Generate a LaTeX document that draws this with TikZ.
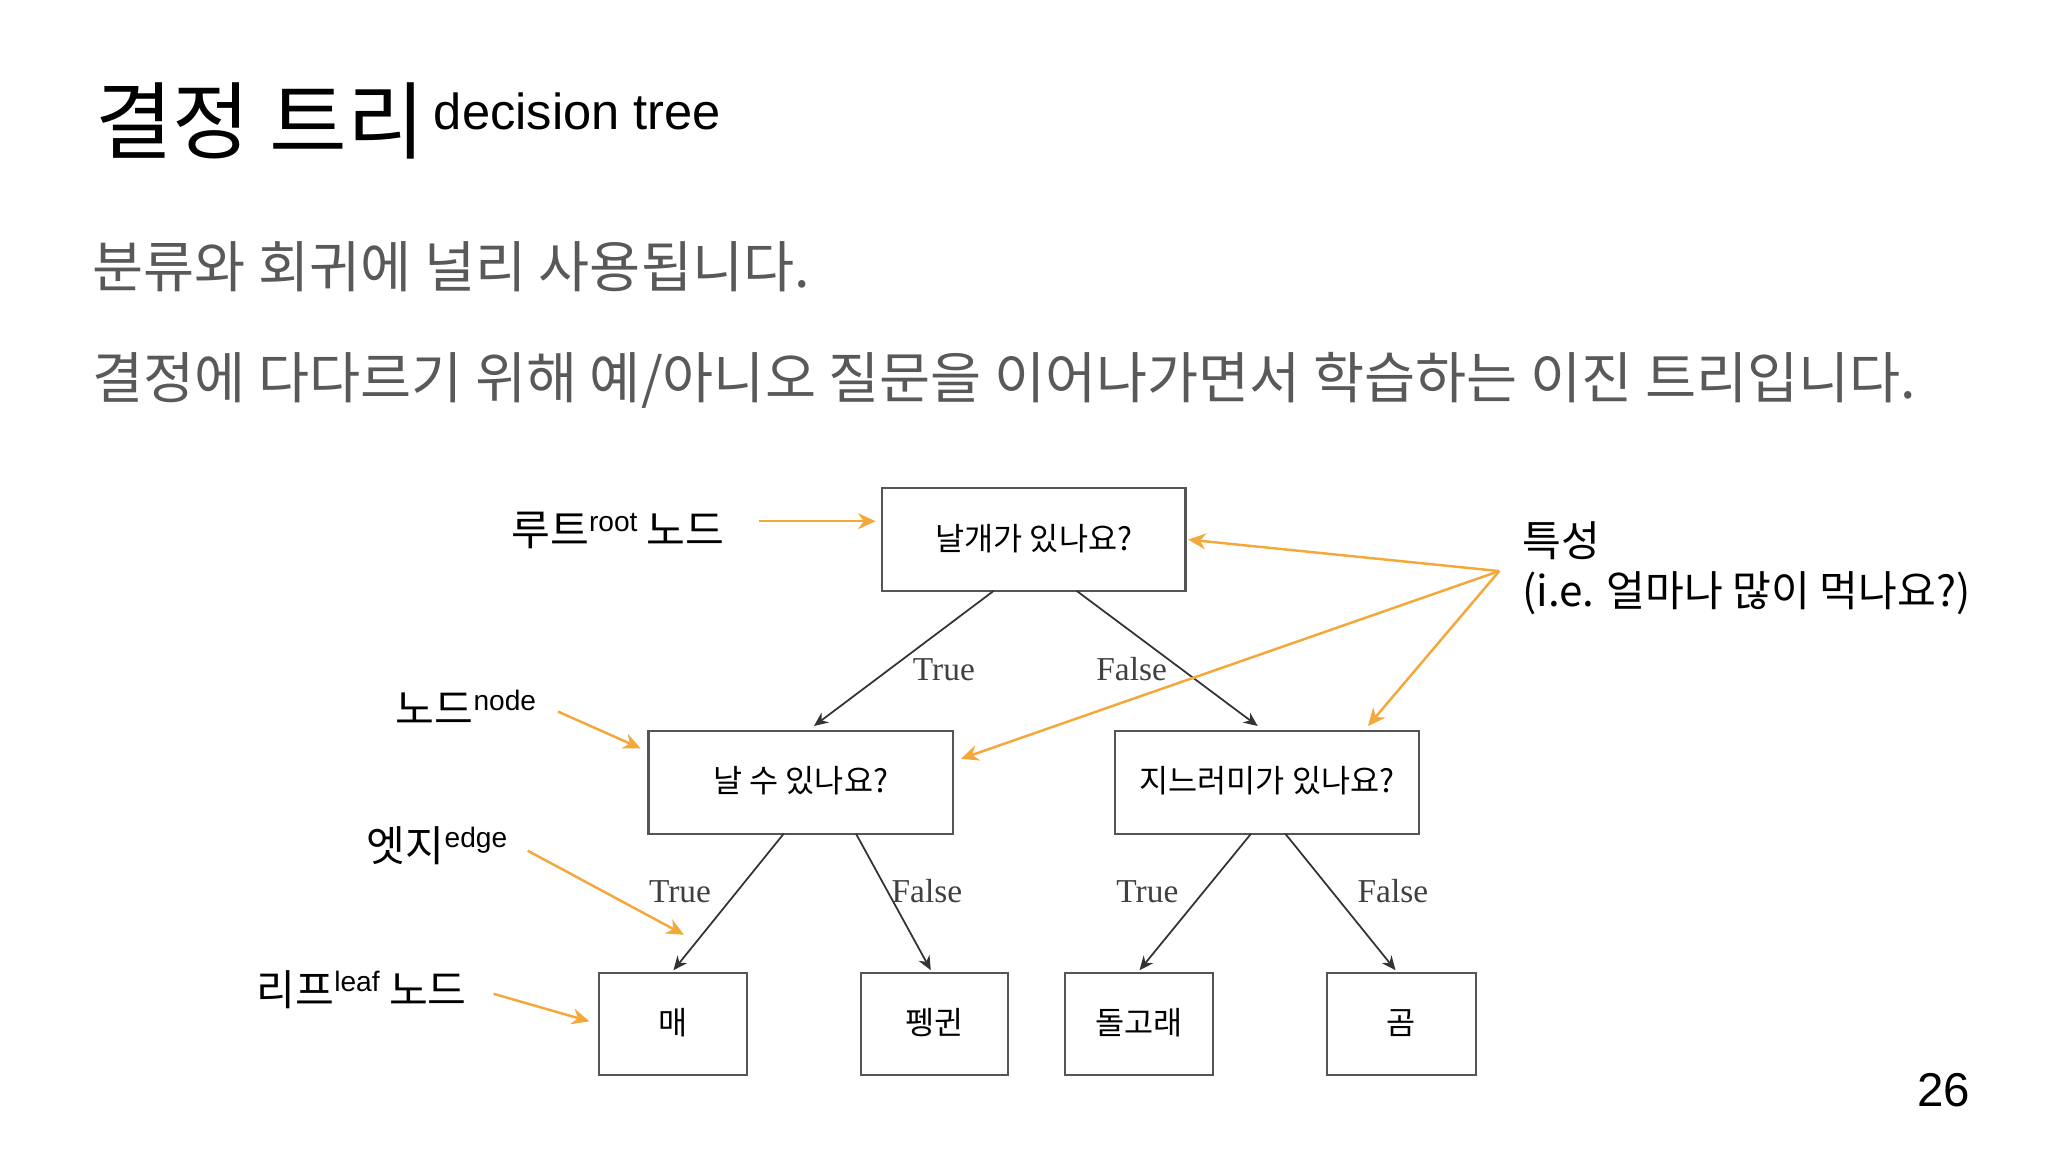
\documentclass[tikz,border=0pt]{standalone}
\usepackage{fontspec}
\setmainfont{Liberation Sans}
\newfontfamily\kr{Noto Sans CJK KR}
\newfontfamily\krm{Noto Sans CJK KR Medium}
\newfontfamily\ser{Liberation Serif}
\usetikzlibrary{arrows.meta}
\definecolor{org}{HTML}{F4A83A}
\definecolor{txtgray}{HTML}{595959}
\definecolor{boxgray}{HTML}{555555}
\begin{document}
\begin{tikzpicture}[x=0.013128cm,y=-0.013128cm,
  tfont/.style={font=\kr\fontsize{9}{10}\selectfont},
  tedge/.style={draw=black!80,line width=0.5pt,-{Stealth[length=4pt,width=3.5pt]}},
  tlab/.style={font=\ser\fontsize{9.5}{10}\selectfont,text=black!75},
  oarr/.style={draw=org,line width=0.7pt,-{Stealth[length=5pt,width=4.5pt]}},
  ann/.style={anchor=west,font=\kr\fontsize{12}{14}\selectfont,inner sep=0pt}]
\useasboundingbox (0,0) rectangle (1560,877.5);
\fill[white] (0,0) rectangle (1560,877.5);
% title
\node[anchor=base west,inner sep=0pt] (title) at (72,116) {\kr\fontsize{24}{28}\selectfont 결정 트리};
\node[anchor=base west,inner sep=0pt] (titleen) at (330,99) {\fontsize{14.4}{16}\selectfont decision tree};
\node[anchor=west,inner sep=0pt,text=txtgray] (l1) at (70,203) {\kr\fontsize{15.8}{18}\selectfont 분류와 회귀에 널리 사용됩니다.};
\node[anchor=west,inner sep=0pt,text=txtgray] (l2) at (70,290) {\kr\fontsize{15.8}{18}\selectfont 결정에 다다르기 위해 예/아니오 질문을 이어나가면서 학습하는 이진 트리입니다.};
% boxes
\draw[draw=boxgray,line width=0.6pt] (672,372) rectangle (903,450);
\node[tfont] (root) at (787.5,410) {날개가 있나요?};
\draw[draw=boxgray,line width=0.6pt] (494,557) rectangle (726,635);
\node[tfont] (ln) at (610,595) {날 수 있나요?};
\draw[draw=boxgray,line width=0.6pt] (849,557) rectangle (1081,635);
\node[tfont] (rn) at (965,595) {지느러미가 있나요?};
\foreach \a/\b/\t/\n in {456/569/매/la,656/768/펭귄/lb,811/924/돌고래/lc,1011/1124/곰/ld}{
  \draw[draw=boxgray,line width=0.6pt] (\a,741) rectangle (\b,819);
  \node[tfont] (\n) at ({(\a+\b)/2},779) {\t};
}
% tree edges
\coordinate (e1s) at (757,450); \coordinate (e1e) at (620,553);
\coordinate (e2s) at (820,450); \coordinate (e2e) at (958,553);
\coordinate (e3s) at (597,635); \coordinate (e3e) at (513,739);
\coordinate (e4s) at (652,635); \coordinate (e4e) at (709,739);
\coordinate (e5s) at (953,635); \coordinate (e5e) at (868,739);
\coordinate (e6s) at (979,635); \coordinate (e6e) at (1063,739);
\foreach \i in {1,...,6}{\draw[tedge] (e\i s) -- (e\i e);}
\node[tlab] (t1) at (719,510) {True};
\node[tlab] (f1) at (862,510) {False};
\node[tlab] (t2) at (518,679) {True};
\node[tlab] (f2) at (706,679) {False};
\node[tlab] (t3) at (874,679) {True};
\node[tlab] (f3) at (1061,679) {False};
% annotations
\node[ann] (a1) at (389,404) {루트\raisebox{0.6ex}{\fontsize{8}{9}\selectfont\rmfamily root} 노드};
\node[ann] (a2) at (301,539) {노드\raisebox{0.6ex}{\fontsize{8}{9}\selectfont\rmfamily node}};
\node[ann] (a3) at (279,644) {엣지\raisebox{0.6ex}{\fontsize{8}{9}\selectfont\rmfamily edge}};
\node[ann] (a4) at (195,754) {리프\raisebox{0.6ex}{\fontsize{8}{9}\selectfont\rmfamily leaf} 노드};
\node[ann] (a5) at (1159,412) {특성};
\node[ann] (a6) at (1159,452) {(i.e. 얼마나 많이 먹나요?)};
\coordinate (o1s) at (578,397); \coordinate (o1e) at (667,397);
\coordinate (o2s) at (425,542); \coordinate (o2e) at (488,570);
\coordinate (o3s) at (402,648); \coordinate (o3e) at (521,712);
\coordinate (o4s) at (376,757); \coordinate (o4e) at (449,778);
\coordinate (fs) at (1142,435);
\coordinate (f1e) at (905,411); \coordinate (f2e) at (732,578); \coordinate (f3e) at (1042,553);
\foreach \i in {1,...,4}{\draw[oarr] (o\i s) -- (o\i e);}
\draw[oarr] (fs) -- (f1e); \draw[oarr] (fs) -- (f2e); \draw[oarr] (fs) -- (f3e);
\node[anchor=base east,inner sep=0pt] (pg) at (1501,843) {\fontsize{13.5}{15}\selectfont 26};
\end{tikzpicture}
\end{document}
